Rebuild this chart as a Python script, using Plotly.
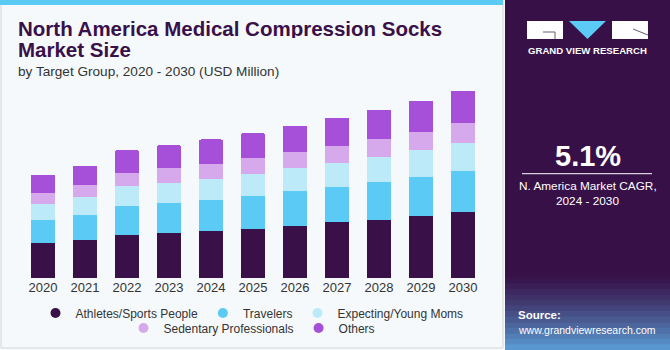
import plotly.graph_objects as go

years = ["2020", "2021", "2022", "2023", "2024", "2025", "2026", "2027", "2028", "2029", "2030"]
athletes = [86.6, 94.0, 107.0, 111.3, 116.2, 121.2, 127.6, 137.5, 143.4, 153.3, 163.2]
travelers = [57.6, 62.6, 71.7, 75.0, 77.4, 81.6, 86.6, 88.3, 94.7, 97.2, 102.1]
expecting = [39.6, 43.7, 48.7, 49.5, 51.9, 54.4, 56.9, 59.4, 61.8, 66.0, 68.5]
sedentary = [27.2, 30.5, 33.6, 35.4, 37.8, 39.6, 41.3, 42.0, 43.8, 45.3, 48.5]
others = [44.5, 47.0, 55.4, 56.9, 59.4, 61.8, 64.3, 69.2, 72.5, 76.7, 80.9]

series_names = ["Athletes/Sports People", "Travelers", "Expecting/Young Moms",
                "Sedentary Professionals", "Others"]
series_values = [athletes, travelers, expecting, sedentary, others]
series_colors = ["#3A1048", "#5BCBF5", "#BDEAF9", "#D6A9EC", "#A64FD8"]
legend_ids = ["legend", "legend", "legend", "legend2", "legend2"]

highlight_year = "2023"
highlight_label = "$327.9M"

W, H = 670, 350
ML, MR, MT, MB = 22, 186, 84, 72
PW, PH = W - ML - MR, H - MT - MB


def px(x):
    return (x - ML) / PW


def py(y):
    return 1 - (y - MT) / PH


fig = go.Figure()
for name, vals, col in zip(series_names, series_values, series_colors):
    fig.add_trace(go.Bar(x=years, y=vals, name=name, marker=dict(color=col, line=dict(width=0)),
                         showlegend=False))
for name, col, lg in zip(series_names, series_colors, legend_ids):
    fig.add_trace(go.Scatter(x=[None], y=[None], mode="markers", name=name, legend=lg,
                             marker=dict(color=col, size=10, symbol="circle")))

shapes = []
# card border
shapes.append(dict(type="rect", xref="paper", yref="paper", x0=px(1), x1=px(503), y0=py(348), y1=py(1),
                   line=dict(color="#D3D7DB", width=1), fillcolor="rgba(0,0,0,0)", layer="below"))
# top stripe
shapes.append(dict(type="rect", xref="paper", yref="paper", x0=px(0), x1=px(503), y0=py(5), y1=py(0),
                   line=dict(width=0), fillcolor="#5BCBF5", layer="below"))
# right panel
shapes.append(dict(type="rect", xref="paper", yref="paper", x0=px(505), x1=px(670), y0=py(350), y1=py(0),
                   line=dict(width=0), fillcolor="#371047", layer="below"))
# gradient at bottom of panel
n = 14
c0 = (0x37, 0x10, 0x47)
c1 = (0x5A, 0x9E, 0xD6)
y_start, y_end = 272, 350
for i in range(n):
    t = (i + 0.5) / n
    t = t ** 1.3
    c = tuple(int(c0[k] + (c1[k] - c0[k]) * t) for k in range(3))
    ya = y_start + (y_end - y_start) * i / n
    yb = y_start + (y_end - y_start) * (i + 1) / n
    shapes.append(dict(type="rect", xref="paper", yref="paper", x0=px(505), x1=px(670),
                       y0=py(yb + 0.5), y1=py(ya), line=dict(width=0),
                       fillcolor="rgb(%d,%d,%d)" % c, layer="below"))
# logo
shapes.append(dict(type="rect", xref="paper", yref="paper", x0=px(527), x1=px(563), y0=py(39), y1=py(21),
                   line=dict(width=0), fillcolor="white"))
shapes.append(dict(type="path", xref="paper", yref="paper",
                   path="M %f %f L %f %f L %f %f Z" % (px(569), py(21), px(606), py(21), px(587.5), py(39)),
                   line=dict(width=0), fillcolor="#5BCBF5"))
shapes.append(dict(type="rect", xref="paper", yref="paper", x0=px(612), x1=px(648), y0=py(39), y1=py(21),
                   line=dict(width=0), fillcolor="white"))
shapes.append(dict(type="path", xref="paper", yref="paper",
                   path="M %f %f L %f %f L %f %f" % (px(543), py(32), px(555), py(32), px(555), py(39)),
                   line=dict(color="#6B5A75", width=1)))
shapes.append(dict(type="line", xref="paper", yref="paper", x0=px(633), y0=py(29), x1=px(648), y1=py(35),
                   line=dict(color="#6B5A75", width=1)))
# CAGR separator line
shapes.append(dict(type="line", xref="paper", yref="paper", x0=px(522), x1=px(652), y0=py(173.7), y1=py(173.7),
                   line=dict(color="white", width=1)))

ann = []
ann.append(dict(text="<b>North America Medical Compression Socks</b>", x=px(16), y=py(28), xanchor="left",
                yanchor="middle", height=20, valign="middle",
                font=dict(size=20.5, color="#3A1048", family="Liberation Sans")))
ann.append(dict(text="<b>Market Size</b>", x=px(16), y=py(48.5), xanchor="left", yanchor="middle",
                height=20, valign="middle",
                font=dict(size=20.5, color="#3A1048", family="Liberation Sans")))
ann.append(dict(text="by Target Group, 2020 - 2030 (USD Million)", x=px(16), y=py(71.5), xanchor="left",
                yanchor="middle", font=dict(size=13.6, color="#333333", family="Liberation Sans")))
ann.append(dict(text="<b>GRAND VIEW RESEARCH</b>", x=px(587.5), y=py(51), xanchor="center", yanchor="middle",
                font=dict(size=9.6, color="white", family="Liberation Sans"), ))
ann.append(dict(text="<b>5.1%</b>", x=px(587.5), y=py(156), xanchor="center", yanchor="middle",
                font=dict(size=29, color="white", family="Liberation Sans")))
ann.append(dict(text="N. America Market CAGR,", x=px(587.5), y=py(186), xanchor="center", yanchor="middle",
                font=dict(size=11.8, color="white", family="Liberation Sans")))
ann.append(dict(text="2024 - 2030", x=px(587.5), y=py(201), xanchor="center", yanchor="middle",
                font=dict(size=11.8, color="white", family="Liberation Sans")))
ann.append(dict(text="<b>Source:</b>", x=px(516), y=py(315), xanchor="left", yanchor="middle",
                font=dict(size=11.5, color="white", family="Liberation Sans")))
ann.append(dict(text="www.grandviewresearch.com", x=px(516), y=py(329.5), xanchor="left", yanchor="middle",
                font=dict(size=10.5, color="white", family="Liberation Sans")))
for a in ann:
    a.update(xref="paper", yref="paper", showarrow=False)

hi = years.index(highlight_year)
total_hi = sum(s[hi] for s in series_values)
ann.append(dict(text=highlight_label, x=highlight_year, y=total_hi, xref="x", yref="y", showarrow=False,
                xanchor="center", yanchor="bottom", yshift=4,
                font=dict(size=14, color="#333333", family="Liberation Sans")))

fig.update_layout(
    width=W, height=H,
    margin=dict(l=ML, r=MR, t=MT, b=MB, autoexpand=False),
    paper_bgcolor="#F5F9FC", plot_bgcolor="rgba(0,0,0,0)",
    barmode="stack", bargap=0.42, barcornerradius=2,
    shapes=shapes, annotations=ann,
    font=dict(family="Liberation Sans", color="#333333"),
    xaxis=dict(type="category", range=[-0.5, 10.5], showgrid=False, showline=False, ticks="",
               tickfont=dict(size=13, color="#333333"), fixedrange=True),
    yaxis=dict(range=[0, 480], visible=False, showgrid=False, fixedrange=True),
    legend=dict(orientation="h", x=px(252), y=py(313), xanchor="center", yanchor="middle",
                traceorder="normal",
                bgcolor="rgba(0,0,0,0)", font=dict(size=12, color="#333333"), itemwidth=30),
    legend2=dict(orientation="h", x=px(252), y=py(328), xanchor="center", yanchor="middle",
                 traceorder="normal",
                 bgcolor="rgba(0,0,0,0)", font=dict(size=12, color="#333333"), itemwidth=30),
    showlegend=True,
)

fig.write_html("out.html")
